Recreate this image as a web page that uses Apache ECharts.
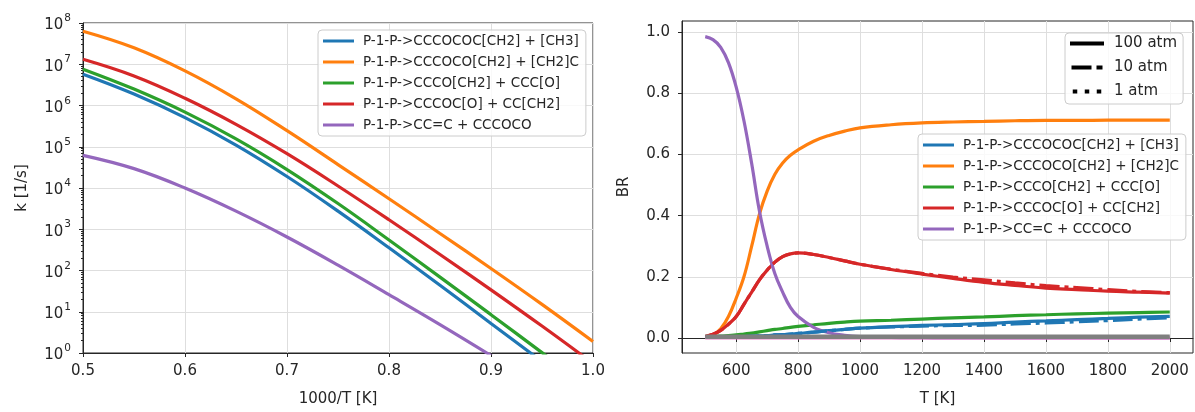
<!DOCTYPE html>
<html>
<head>
<meta charset="utf-8">
<script src="https://cdn.jsdelivr.net/npm/echarts@6/dist/echarts.min.js"></script>
<style>
  html, body { margin: 0; padding: 0; background: #fff; }
  #main { width: 1195px; height: 412px; }
</style>
</head>
<body>
<div id="main"></div>
<script>
// reaction channels and matplotlib tab10 colours
var names = [
  'P-1-P->CCCOCOC[CH2] + [CH3]',
  'P-1-P->CCCOCO[CH2] + [CH2]C',
  'P-1-P->CCCO[CH2] + CCC[O]',
  'P-1-P->CCCOC[O] + CC[CH2]',
  'P-1-P->CC=C + CCCOCO'
];
var colors = ['#1f77b4', '#ff7f0e', '#2ca02c', '#d62728', '#9467bd'];

// left panel: k [1/s] vs 1000/T
var invT = [0.5, 0.55, 0.6, 0.65, 0.7, 0.75, 0.8, 0.85, 0.9, 0.95, 1.0];
var kBlue   = [5.75e6, 1.9e6, 5.1e5, 1.1e5, 1.9e4, 2.75e3, 3.55e2, 44, 5.2, 0.62, 0.071];
var kOrange = [6.3e7, 2.5e7, 6.9e6, 1.45e6, 2.45e5, 3.7e4, 5.5e3, 7.9e2, 1.12e2, 15.1, 1.9];
var kGreen  = [7.6e6, 2.5e6, 6.9e5, 1.55e5, 2.8e4, 4.2e3, 5.5e2, 69, 8.5, 1.02, 0.12];
var kRed    = [1.32e7, 5.2e6, 1.5e6, 3.5e5, 6.8e4, 1.12e4, 1.7e3, 2.45e2, 34, 4.5, 0.56];
var kPurple = [6.2e4, 2.95e4, 1.0e4, 2.75e3, 6.5e2, 1.35e2, 26, 4.9, 0.87, 0.148, 0.025];

// right panel: branching ratio vs T
var temps = [500, 525, 550, 575, 600, 625, 650, 675, 700, 725, 750, 775, 800, 850, 900, 950, 1000,
             1100, 1200, 1300, 1400, 1500, 1600, 1700, 1800, 1900, 2000];
var brBlue   = [0.002, 0.002, 0.003, 0.003, 0.004, 0.005, 0.006, 0.007, 0.008, 0.010, 0.011, 0.013, 0.015, 0.019, 0.024, 0.028, 0.032,
                0.037, 0.041, 0.044, 0.047, 0.052, 0.056, 0.060, 0.064, 0.068, 0.071];
var brOrange = [0.003, 0.010, 0.030, 0.070, 0.130, 0.200, 0.300, 0.405, 0.480, 0.535, 0.572, 0.597, 0.615, 0.643, 0.662, 0.676, 0.687,
                0.697, 0.703, 0.706, 0.708, 0.710, 0.711, 0.711, 0.712, 0.712, 0.712];
var brGreen  = [0.004, 0.005, 0.006, 0.008, 0.010, 0.013, 0.016, 0.020, 0.024, 0.028, 0.031, 0.035, 0.038, 0.043, 0.048, 0.052, 0.055,
                0.058, 0.062, 0.066, 0.069, 0.073, 0.076, 0.079, 0.081, 0.083, 0.085];
var brRed    = [0.005, 0.012, 0.025, 0.045, 0.070, 0.110, 0.150, 0.190, 0.222, 0.248, 0.266, 0.275, 0.278, 0.273, 0.263, 0.252, 0.241,
                0.224, 0.209, 0.195, 0.182, 0.172, 0.163, 0.158, 0.153, 0.150, 0.147];
var brPurple = [0.985, 0.975, 0.950, 0.900, 0.820, 0.710, 0.570, 0.415, 0.300, 0.210, 0.150, 0.100, 0.070, 0.035, 0.017, 0.009, 0.005,
                0.002, 0.001, 0, 0, 0, 0, 0, 0, 0, 0];
// 10 atm curves that show apart from 100 atm at high T
var brRed10  = [0.005, 0.012, 0.025, 0.045, 0.070, 0.110, 0.150, 0.190, 0.222, 0.248, 0.266, 0.275, 0.278, 0.273, 0.263, 0.252, 0.241,
                0.225, 0.211, 0.199, 0.190, 0.180, 0.171, 0.165, 0.158, 0.152, 0.148];
var brBlue10 = [0.002, 0.002, 0.003, 0.003, 0.004, 0.005, 0.006, 0.007, 0.008, 0.010, 0.011, 0.013, 0.015, 0.019, 0.024, 0.028, 0.032,
                0.036, 0.039, 0.041, 0.042, 0.046, 0.049, 0.053, 0.057, 0.062, 0.066];
var brPink   = [0, 0, 0, 0, 0, 0, 0, 0, 0, 0, 0, 0, 0, 0, 0, 0, 0, 0, 0, 0, 0, 0, 0, 0, 0, 0, 0];
var brGray   = [0.004, 0.004, 0.004, 0.004, 0.004, 0.004, 0.004, 0.004, 0.004, 0.004, 0.004, 0.004, 0.004, 0.004, 0.004, 0.004, 0.004,
                0.004, 0.004, 0.004, 0.004, 0.004, 0.004, 0.004, 0.004, 0.004, 0.004];
var tTicks = [600, 800, 1000, 1200, 1400, 1600, 1800, 2000];
var brTicks = [0, 0.2, 0.4, 0.6, 0.8, 1.0];
var pressures = ['100 atm', '10 atm', '1 atm'];

var FONT = 'DejaVu Sans';
var INK = '#262626';
var GRIDC = '#dedede';
var LW = 3.2;
var dashDot = [20, 5, 4, 5];
var dotted = [3.5, 5.5];

// legend keys drawn as filled bars
var iconLine = 'path://M0,0H31V3H0Z';
var iconSolid = 'path://M0,0H34V4H0Z';
var iconDashDot = 'path://M0,0H20V4H0Z M25,0H31V4H25Z';
var iconDotted = 'path://M0,0H4.5V4H0Z M12,0H16.5V4H12Z M24,0H28.5V4H24Z';

// minor log ticks (2..9 x 10^n) on a linear helper axis in exponent units
var minorTicks = [];
for (var d = 0; d < 8; d++) {
  for (var m = 2; m <= 9; m++) minorTicks.push(d + Math.log10(m));
}

function pairs(xs, ys) {
  return xs.map(function (x, i) { return [x, ys[i]]; });
}

var kSets = [kBlue, kOrange, kGreen, kRed, kPurple];
var brSets = [brBlue, brOrange, brGreen, brRed, brPurple];

var series = [];
kSets.forEach(function (ks, i) {
  series.push({
    name: names[i], type: 'line', xAxisIndex: 0, yAxisIndex: 0,
    data: pairs(invT, ks), smooth: 0.4, symbol: 'none',
    lineStyle: { color: colors[i], width: LW }, itemStyle: { color: colors[i] }
  });
});
brSets.forEach(function (br, i) {
  series.push({
    name: names[i], type: 'line', xAxisIndex: 1, yAxisIndex: 2,
    data: pairs(temps, br), smooth: 0.4, symbol: 'none',
    lineStyle: { color: colors[i], width: LW }, itemStyle: { color: colors[i] }
  });
});
series.push({
  name: 'red 10 atm', type: 'line', xAxisIndex: 1, yAxisIndex: 2,
  data: pairs(temps, brRed10), smooth: 0.4, symbol: 'none',
  lineStyle: { color: colors[3], width: LW, type: dashDot }
});
series.push({
  name: 'blue 10 atm', type: 'line', xAxisIndex: 1, yAxisIndex: 2,
  data: pairs(temps, brBlue10), smooth: 0.4, symbol: 'none',
  lineStyle: { color: colors[0], width: LW, type: dashDot }
});
series.push({
  name: 'other pink', type: 'line', xAxisIndex: 1, yAxisIndex: 2,
  data: pairs(temps, brPink), symbol: 'none',
  lineStyle: { color: '#e377c2', width: LW }
});
series.push({
  name: 'other gray', type: 'line', xAxisIndex: 1, yAxisIndex: 2,
  data: pairs(temps, brGray), symbol: 'none',
  lineStyle: { color: '#7f7f7f', width: 4.5 }
});
// pressure key only (no data)
[[pressures[0], 'solid'], [pressures[1], dashDot], [pressures[2], dotted]].forEach(function (p) {
  series.push({
    name: p[0], type: 'line', xAxisIndex: 1, yAxisIndex: 2, data: [], symbol: 'none',
    lineStyle: { color: '#000', width: 3.5, type: p[1] }, itemStyle: { color: '#000' }
  });
});

var tickLbl = { fontSize: 15, color: INK, fontFamily: FONT };
var nameStyle = { fontSize: 15, color: INK, fontFamily: FONT };
var lineSt = { lineStyle: { color: INK, width: 1 } };
var split = { show: true, lineStyle: { color: GRIDC, width: 1 } };

function boxLegend(extra) {
  return Object.assign({
    orient: 'vertical',
    backgroundColor: 'rgba(255,255,255,0.8)', borderColor: '#cccccc', borderWidth: 1, borderRadius: 4,
    selectedMode: false
  }, extra);
}

var chanLegendText = { fontSize: 13.5, color: INK, fontFamily: FONT, lineHeight: 14, padding: [0, 0, 0, 4] };

var option = {
  animation: false,
  backgroundColor: '#ffffff',
  grid: [
    { left: 83, top: 23, width: 510, height: 333, show: true, borderColor: INK, borderWidth: 1, backgroundColor: 'transparent' },
    { left: 682, top: 21, width: 511, height: 333, show: true, borderColor: INK, borderWidth: 1, backgroundColor: 'transparent' }
  ],
  xAxis: [
    {
      gridIndex: 0, type: 'value', min: 0.5, max: 1.0, interval: 0.1,
      axisLine: lineSt, axisTick: { show: true, length: 4, lineStyle: { color: INK } },
      axisLabel: Object.assign({ margin: 11, formatter: function (v) { return v.toFixed(1); } }, tickLbl),
      splitLine: split,
      name: '1000/T [K]', nameLocation: 'middle', nameGap: 39, nameTextStyle: nameStyle
    },
    {
      gridIndex: 1, type: 'value', min: 425, max: 2075,
      axisLine: lineSt, axisTick: { show: true, length: 4, customValues: tTicks, lineStyle: { color: INK } },
      axisLabel: Object.assign({ margin: 11, customValues: tTicks, formatter: function (v) { return String(v); } }, tickLbl),
      splitLine: split,
      name: 'T [K]', nameLocation: 'middle', nameGap: 39, nameTextStyle: nameStyle
    }
  ],
  yAxis: [
    {
      gridIndex: 0, type: 'log', logBase: 10, min: 1, max: 1e8, splitNumber: 8,
      axisLine: lineSt, axisTick: { show: true, length: 4, lineStyle: { color: INK } },
      axisLabel: {
        margin: 12, color: INK, fontFamily: FONT,
        formatter: function (v) {
          var e = Math.round(Math.log10(v));
          return '{b|10}{s|' + e + '}';
        },
        rich: {
          b: { fontSize: 15, fontFamily: FONT, color: INK, lineHeight: 20, verticalAlign: 'bottom' },
          s: { fontSize: 10.5, fontFamily: FONT, color: INK, lineHeight: 10, verticalAlign: 'top', padding: [0, 0, 0, 1] }
        }
      },
      splitLine: split,
      name: 'k [1/s]', nameLocation: 'middle', nameGap: 53, nameMoveOverlap: false, nameTextStyle: nameStyle
    },
    {
      gridIndex: 0, type: 'value', min: 0, max: 8, position: 'left',
      axisLine: { show: false },
      axisTick: { show: true, length: 2, customValues: minorTicks, lineStyle: { color: INK } },
      axisLabel: { show: false },
      splitLine: { show: false }
    },
    {
      gridIndex: 1, type: 'value', min: -0.049, max: 1.036,
      axisLine: lineSt, axisTick: { show: true, length: 4, customValues: brTicks, lineStyle: { color: INK } },
      axisLabel: Object.assign({ margin: 12, customValues: brTicks, formatter: function (v) { return v.toFixed(1); } }, tickLbl),
      splitLine: split,
      name: 'BR', nameLocation: 'middle', nameGap: 50, nameTextStyle: nameStyle
    }
  ],
  legend: [
    boxLegend({
      data: names.map(function (n) { return { name: n, icon: iconLine }; }),
      left: 318, top: 30, padding: [4, 7, 4, 5],
      itemWidth: 31, itemHeight: 3, itemGap: 7, textStyle: chanLegendText
    }),
    boxLegend({
      data: names.map(function (n) { return { name: n, icon: iconLine }; }),
      left: 918, top: 134, padding: [4, 7, 4, 5],
      itemWidth: 31, itemHeight: 3, itemGap: 7, textStyle: chanLegendText
    }),
    boxLegend({
      data: [
        { name: pressures[0], icon: iconSolid },
        { name: pressures[1], icon: iconDashDot },
        { name: pressures[2], icon: iconDotted }
      ],
      left: 1065, top: 33, padding: [3, 6, 5, 5],
      itemWidth: 34, itemHeight: 4, itemGap: 9,
      textStyle: { fontSize: 15, color: INK, fontFamily: FONT, lineHeight: 14, padding: [0, 0, 0, 5] }
    })
  ],
  series: series
};

var chart = echarts.init(document.getElementById('main'), null, { renderer: 'canvas' });
chart.setOption(option);
</script>
</body>
</html>
